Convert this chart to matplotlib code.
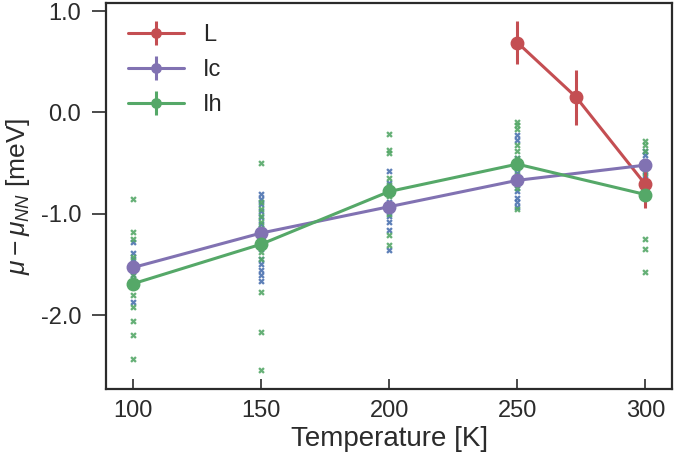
import matplotlib
matplotlib.use("Agg")
import matplotlib.pyplot as plt
import seaborn as sns

sns.set_style("ticks")
plt.rcParams['font.family'] = ['Liberation Sans', 'DejaVu Sans']
plt.rcParams['mathtext.fontset'] = 'custom'
plt.rcParams['mathtext.rm'] = 'Liberation Sans'
plt.rcParams['mathtext.it'] = 'Liberation Sans:italic'
plt.rcParams['axes.unicode_minus'] = False

# Data
temps = [100, 150, 200, 250, 300]

L_T = [250, 273, 300]
L_mean = [0.69, 0.15, -0.71]
L_err = [0.21, 0.27, 0.23]

Ic_mean = [-1.53, -1.19, -0.93, -0.67, -0.52]
Ic_err = [0.02, 0.02, 0.02, 0.02, 0.02]
Ih_mean = [-1.69, -1.30, -0.78, -0.51, -0.81]
Ih_err = [0.02, 0.02, 0.02, 0.02, 0.02]

Ic_samples = {
    100: [-1.28, -1.39, -1.45, -1.55, -1.60, -1.70, -1.87],
    150: [-0.80, -0.85, -0.90, -0.97, -1.03, -1.10, -1.15, -1.25, -1.35, -1.45, -1.50, -1.55, -1.60, -1.66],
    200: [-0.58, -0.70, -0.80, -0.88, -0.95, -1.02, -1.08, -1.16, -1.36],
    250: [-0.22, -0.27, -0.45, -0.60, -0.72, -0.78, -0.84, -0.88, -0.93],
    300: [-0.38, -0.42, -0.48, -0.55, -0.62],
}
Ih_samples = {
    100: [-0.85, -1.18, -1.25, -1.43, -1.50, -1.60, -1.70, -1.80, -1.92, -2.06, -2.20, -2.43],
    150: [-0.50, -0.88, -0.95, -1.02, -1.08, -1.14, -1.20, -1.26, -1.32, -1.38, -1.45, -1.77, -2.17, -2.54],
    200: [-0.21, -0.37, -0.40, -0.65, -0.72, -0.78, -0.82, -0.90, -1.00, -1.21, -1.31],
    250: [-0.09, -0.12, -0.16, -0.32, -0.38, -0.45, -0.55, -0.62, -0.68, -0.75, -0.95],
    300: [-0.28, -0.32, -0.38, -0.60, -0.80, -1.25, -1.35, -1.57],
}

red = "#C44E52"
purple = "#8172B2"
green = "#55A868"
blue = "#4C72B0"
textc = '#2b2b2b'

fig = plt.figure(figsize=(6.77, 4.61), dpi=100)
ax = fig.add_axes([0.157, 0.156, 0.836, 0.8375])

for T, vals in Ic_samples.items():
    ax.scatter([T] * len(vals), vals, marker='X', s=22, color=blue, linewidths=0,
               alpha=0.9, zorder=2)
for T, vals in Ih_samples.items():
    ax.scatter([T] * len(vals), vals, marker='X', s=22, color=green, linewidths=0,
               alpha=0.9, zorder=2)

ax.errorbar(L_T, L_mean, yerr=L_err, color=red, lw=2.2, marker='o', ms=9,
            elinewidth=2.2, capsize=0, label='L', zorder=4)
ax.errorbar(temps, Ic_mean, yerr=Ic_err, color=purple, lw=2.2, marker='o', ms=9,
            elinewidth=2.2, capsize=0, label='Ic', zorder=4)
ax.errorbar(temps, Ih_mean, yerr=Ih_err, color=green, lw=2.2, marker='o', ms=9,
            elinewidth=2.2, capsize=0, label='Ih', zorder=4)

ax.set_xlim(89.5, 310.5)
ax.set_ylim(-2.73, 1.08)
ax.set_xticks(temps)
ax.set_yticks([1.0, 0.0, -1.0, -2.0])
ax.set_yticklabels(['1.0', '0.0', '-1.0', '-2.0'])
ax.tick_params(labelsize=17, width=1.2, color=textc, labelcolor=textc)
ax.tick_params(axis='y', direction='out', length=10, pad=8)
ax.tick_params(axis='x', direction='in', length=7, pad=8)
for s in ax.spines.values():
    s.set_linewidth(1.6)
    s.set_color(textc)

ax.set_xlabel('Temperature [K]', fontsize=20, color=textc, labelpad=3)
ax.set_ylabel(r'$\mu - \mu_{NN}$ [meV]', fontsize=19, color=textc, labelpad=6)

leg = ax.legend(loc='upper left', fontsize=17, frameon=False, handlelength=2.4,
                borderaxespad=0.5, labelspacing=0.55, markerscale=0.75,
                handletextpad=0.8)

fig.savefig("out.png", dpi=100)
